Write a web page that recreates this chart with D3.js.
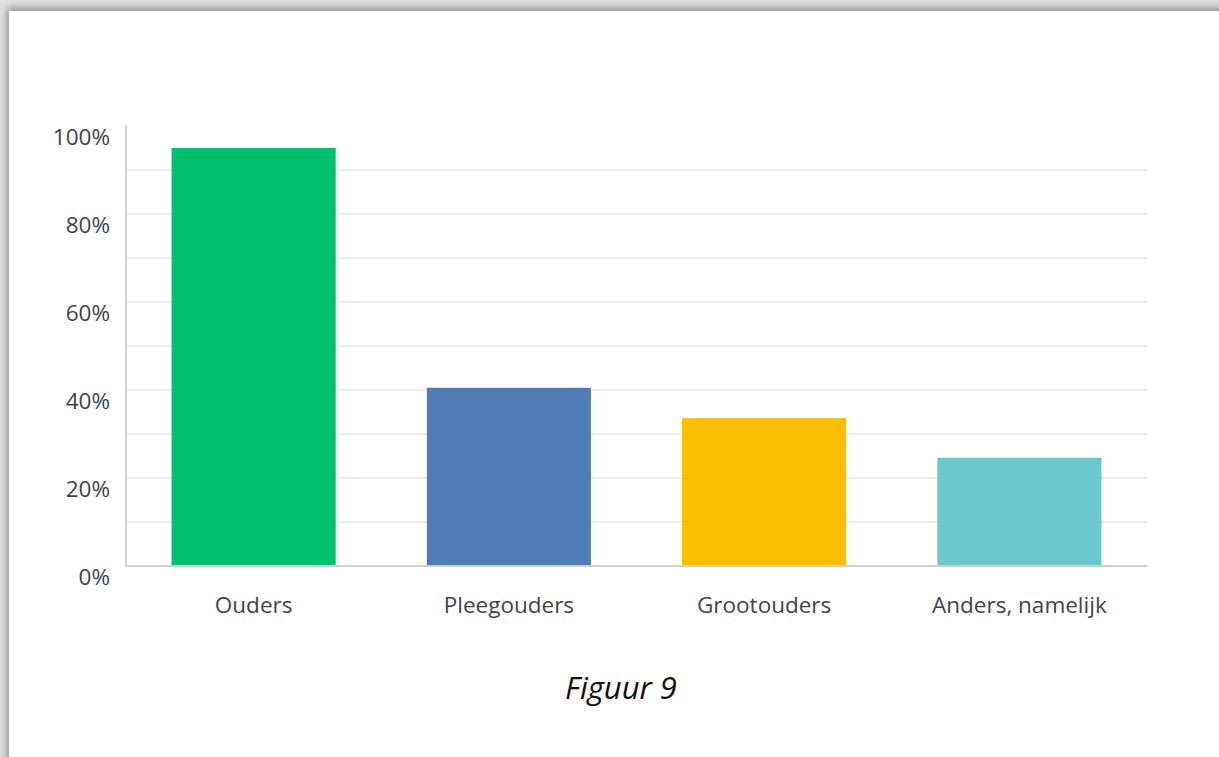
<!DOCTYPE html>
<html>
<head>
<meta charset="utf-8">
<script src="https://cdn.jsdelivr.net/npm/d3@7"></script>
<style>
  html, body { margin: 0; padding: 0; background: #fff; overflow: hidden; }
  svg { display: block; }
</style>
</head>
<body>
<svg id="chart" width="1219" height="757"></svg>
<script>
const categories = ["Ouders", "Pleegouders", "Grootouders", "Anders, namelijk"];
const values = [95, 40.5, 33.6, 24.6];
const colors = ["#00BF6F", "#507CB6", "#F9BE00", "#6BC8CD"];
const yTicks = [0, 20, 40, 60, 80, 100];
const yTickLabels = ["0%", "20%", "40%", "60%", "80%", "100%"];
const gridValues = [10, 20, 30, 40, 50, 60, 70, 80, 90];
const caption = "Figuur 9";

const svg = d3.select("#chart");
const W = 1219, H = 757;

// frame with shadow
const defs = svg.append("defs");
const f = defs.append("filter").attr("id", "sh").attr("x", "-5%").attr("y", "-5%").attr("width", "110%").attr("height", "110%");
f.append("feDropShadow").attr("dx", -2).attr("dy", -3).attr("stdDeviation", 4).attr("flood-color", "#000").attr("flood-opacity", 0.38);
svg.append("rect").attr("width", W).attr("height", H).attr("fill", "#e2e2e2");
svg.append("rect").attr("x", 9).attr("y", 11).attr("width", W + 40).attr("height", H + 40)
  .attr("fill", "#fff").attr("filter", "url(#sh)");

const x0 = 126, x1 = 1147, yTop = 126, yBase = 566;
const x = d3.scaleBand().domain(categories).range([x0, x1]).paddingInner(0.357).paddingOuter(0.1785);
const y = d3.scaleLinear().domain([0, 100]).range([yBase, yTop]);

// gridlines
svg.append("g").selectAll("line").data(gridValues).join("line")
  .attr("x1", x0).attr("x2", x1)
  .attr("y1", d => y(d)).attr("y2", d => y(d))
  .attr("stroke", "#ededed").attr("stroke-width", 2);

// bars
svg.append("g").selectAll("rect").data(values).join("rect")
  .attr("x", (d, i) => x(categories[i]))
  .attr("y", d => y(d))
  .attr("width", x.bandwidth())
  .attr("height", d => yBase - y(d))
  .attr("fill", (d, i) => colors[i]);

// axes lines
svg.append("line").attr("x1", x0).attr("x2", x0).attr("y1", yTop - 1).attr("y2", yBase + 1)
  .attr("stroke", "#d4d4d4").attr("stroke-width", 2);
svg.append("line").attr("x1", x0).attr("x2", x1).attr("y1", yBase).attr("y2", yBase)
  .attr("stroke", "#d0d0d0").attr("stroke-width", 2);

// y labels
const yAxis = d3.axisLeft(y).tickValues(yTicks).tickFormat((d, i) => yTickLabels[i]).tickSize(0).tickPadding(0);
const gy = svg.append("g").attr("transform", `translate(110,0)`).call(yAxis);
gy.select(".domain").remove();
gy.selectAll("text")
  .attr("dy", null).attr("y", 18)
  .attr("font-family", "'Open Sans', sans-serif").attr("font-size", 22.5)
  .attr("fill", "#3b4550");

// x labels
const xAxis = d3.axisBottom(x).tickSize(0).tickPadding(0);
const gx = svg.append("g").attr("transform", `translate(0,${yBase})`).call(xAxis);
gx.select(".domain").remove();
gx.selectAll("text")
  .attr("dy", null).attr("y", 47)
  .attr("font-family", "'Open Sans', sans-serif").attr("font-size", 22.5)
  .attr("fill", "#3b4550");

// caption
svg.append("text").attr("x", 621).attr("y", 699).attr("text-anchor", "middle")
  .attr("font-family", "'Open Sans', sans-serif").attr("font-style", "italic")
  .attr("font-size", 31).attr("fill", "#111").text(caption);
</script>
</body>
</html>
